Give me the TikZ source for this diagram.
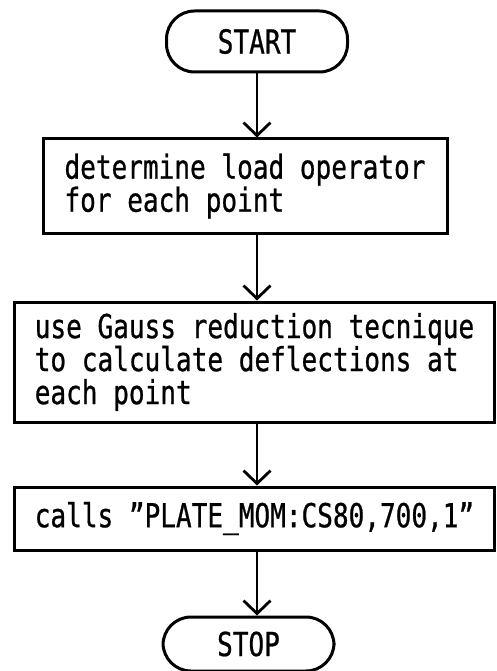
\documentclass[tikz,border=0pt]{standalone}
\usepackage{fontspec}
\usepackage{tikz}
\usetikzlibrary{positioning, arrows.meta}
\newfontfamily\plotfont[FakeStretch=0.79, FakeBold=0.7]{DejaVu Sans Mono}

\begin{document}
\begin{tikzpicture}[
  x=1pt, y=1pt,
  font=\plotfont\fontsize{33}{33}\selectfont,
  every node/.style={align=left},
  term/.style={rectangle, rounded corners=28pt, draw, line width=3pt,
               minimum width=181pt, minimum height=61pt, inner sep=0pt},
  box/.style={rectangle, draw, line width=3pt, inner sep=0pt},
  arr/.style={-{Straight Barb[length=13pt, width=27pt, line width=2.8pt]},
              line width=1.5pt}
]
  \useasboundingbox (0,0) rectangle (496,-671);

  \node[term] (start) at (257,-41.5) {START};
  \node[box, minimum width=404pt, minimum height=94pt,
        below=64pt of start, xshift=-12pt] (load)
    {determine load operator\\for each point};
  \node[box, minimum width=480pt, minimum height=120pt,
        below=66pt of load, xshift=9.5pt] (gauss)
    {use Gauss reduction tecnique\\to calculate deflections at\\each point};
  \node[box, minimum width=480pt, minimum height=63pt,
        below=62pt of gauss] (calls)
    {calls ”PLATE\_MOM:CS80,700,1”};
  \node[term, minimum width=171pt, minimum height=54pt,
        below=64pt of calls, xshift=-6pt] (stop) {STOP};

  \draw[arr] (start.south) -- (start.south |- load.north);
  \draw[arr] (load.south -| start) -- (start |- gauss.north);
  \draw[arr] (gauss.south -| start) -- (start |- calls.north);
  \draw[arr] (calls.south -| start) -- (start |- stop.north);
\end{tikzpicture}
\end{document}
